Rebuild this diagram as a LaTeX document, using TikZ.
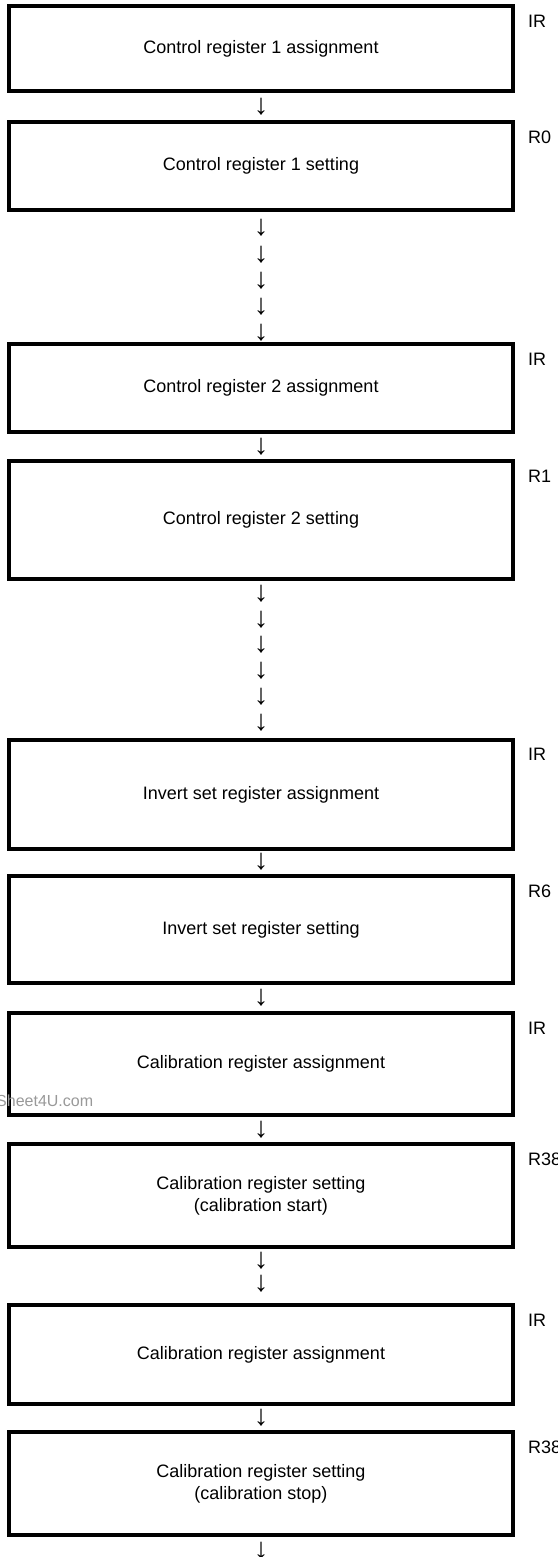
\documentclass[tikz,border=0pt]{standalone}
\usepackage{fontspec}
\setmainfont{Liberation Sans}
\begin{document}
\begin{tikzpicture}[x=1pt,y=-1pt,
  box/.style={draw, line width=3.5pt, minimum width=504pt, inner sep=0pt, align=center, font=\fontsize{18}{22}\selectfont},
  dnarrow/.style={inner sep=0pt, font=\fontsize{29}{30}\selectfont},
  reglabel/.style={anchor=north west, inner sep=0pt, font=\fontsize{18}{22}\selectfont},
  wmark/.style={anchor=west, inner sep=0pt, text=black!40, font=\fontsize{16}{18}\selectfont}]
\useasboundingbox (0,0) rectangle (557,1557);
\clip (0,0) rectangle (557,1557);
% boxes
\node[box, minimum height=85pt]  (b1)  at (261,48.5)  {Control register 1 assignment};
\node[box, minimum height=88pt]  (b2)  at (261,166)   {Control register 1 setting};
\node[box, minimum height=88pt]  (b3)  at (261,388)   {Control register 2 assignment};
\node[box, minimum height=118pt] (b4)  at (261,520)   {Control register 2 setting};
\node[box, minimum height=109pt] (b5)  at (261,794.5) {Invert set register assignment};
\node[box, minimum height=107pt] (b6)  at (261,929.5) {Invert set register setting};
\node[box, minimum height=102pt] (b7)  at (261,1064)  {Calibration register assignment};
\node[box, minimum height=103pt] (b8)  at (261,1195.5){Calibration register setting\\(calibration start)};
\node[box, minimum height=99pt]  (b9)  at (261,1354.5){Calibration register assignment};
\node[box, minimum height=103pt] (b10) at (261,1483.5){Calibration register setting\\(calibration stop)};
% labels
\node[reglabel] (l1)  at (528,15)   {IR};
\node[reglabel] (l2)  at (528,131)  {R0};
\node[reglabel] (l3)  at (528,353)  {IR};
\node[reglabel] (l4)  at (528,470)  {R1};
\node[reglabel] (l5)  at (528,748)  {IR};
\node[reglabel] (l6)  at (528,885)  {R6};
\node[reglabel] (l7)  at (528,1022) {IR};
\node[reglabel] (l8)  at (528,1153) {R38};
\node[reglabel] (l9)  at (528,1314) {IR};
\node[reglabel] (l10) at (528,1441) {R38};
% arrows
\node[dnarrow] (a1)  at (261,107)  {↓};
\node[dnarrow] (a2)  at (261,228)  {↓};
\node[dnarrow] (a3)  at (261,255)  {↓};
\node[dnarrow] (a4)  at (261,281)  {↓};
\node[dnarrow] (a5)  at (261,307)  {↓};
\node[dnarrow] (a6)  at (261,333)  {↓};
\node[dnarrow] (a7)  at (261,447)  {↓};
\node[dnarrow] (a8)  at (261,594)  {↓};
\node[dnarrow] (a9)  at (261,620)  {↓};
\node[dnarrow] (a10) at (261,645)  {↓};
\node[dnarrow] (a11) at (261,671)  {↓};
\node[dnarrow] (a12) at (261,697)  {↓};
\node[dnarrow] (a13) at (261,723)  {↓};
\node[dnarrow] (a14) at (261,862)  {↓};
\node[dnarrow] (a15) at (261,998)  {↓};
\node[dnarrow] (a16) at (261,1130) {↓};
\node[dnarrow] (a17) at (261,1261) {↓};
\node[dnarrow] (a18) at (261,1284) {↓};
\node[dnarrow] (a19) at (261,1418) {↓};
\node[dnarrow] (a20) at (261,1551) {↓};
% watermark
\node[wmark] (wm) at (-4,1101) {Sheet4U.com};
\end{tikzpicture}
\end{document}
